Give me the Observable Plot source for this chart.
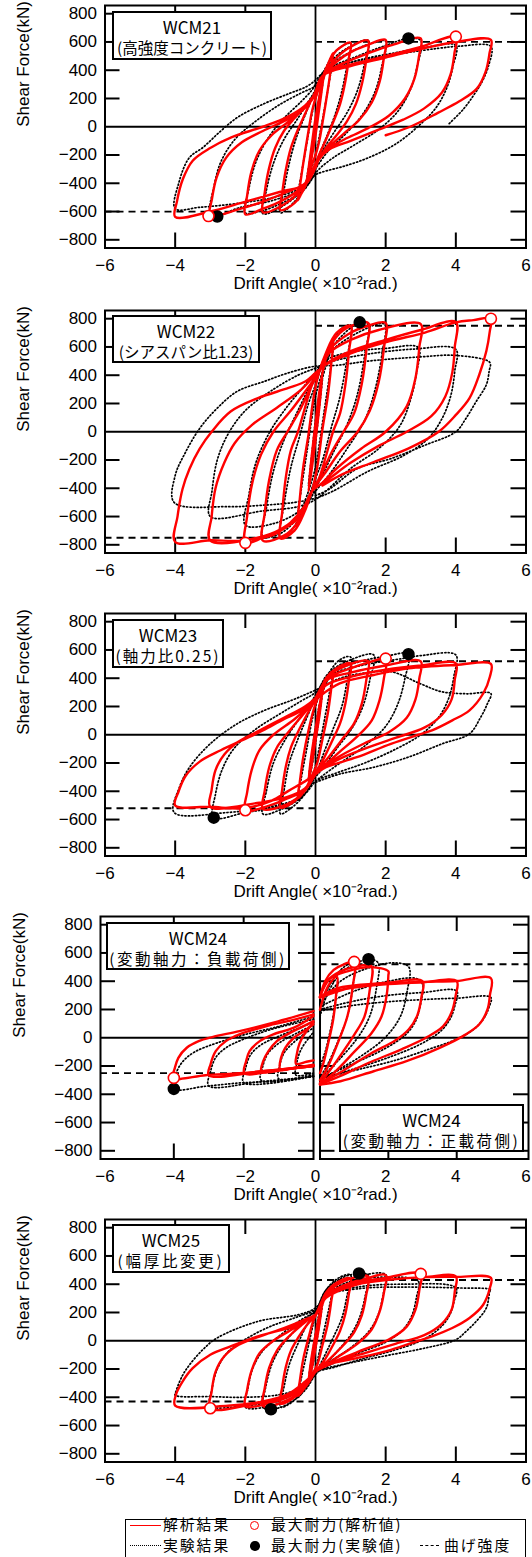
<!DOCTYPE html>
<html><head><meta charset="utf-8">
<script src="https://cdn.jsdelivr.net/npm/d3@7"></script>
<script src="https://cdn.jsdelivr.net/npm/@observablehq/plot@0.6"></script>
<style>
html,body{margin:0;padding:0;background:#fff;overflow:hidden}
#chart{position:relative;width:532px;height:1557px;overflow:hidden;background:#fff}
.box{position:absolute;box-sizing:border-box;border:2px solid #000;background:#fff;font-family:"Noto Sans CJK JP",sans-serif;font-size:15.5px;line-height:20px;text-align:center;color:#000;white-space:nowrap;padding-top:3.5px}
.box .l1{font-size:17px}
.legend{position:absolute;left:125px;top:1518.5px;width:401px;height:50px;box-sizing:border-box;border:1.5px solid #000;background:#fff;font-family:"Noto Sans CJK JP",sans-serif;font-size:14.8px;letter-spacing:2px;color:#000}
.legend .it{position:absolute;white-space:nowrap;line-height:14.8px;height:14.8px}
.sym{position:absolute}
</style></head><body><div id="chart"></div>
<script>
// ---------- axis values ----------
const driftTicks = [-6, -4, -2, 0, 2, 4, 6];
const shearTicks = [-800, -600, -400, -200, 0, 200, 400, 600, 800];
const boxLabels = [
  ["WCM21", "(高強度コンクリート)"],
  ["WCM22", "(シアスパン比1.23)"],
  ["WCM23", "(軸力比0.25)"],
  ["WCM24", "(変動軸力：負載荷側)"],
  ["WCM24", "(変動軸力：正載荷側)"],
  ["WCM25", "(幅厚比変更)"]
];
const legendLabels = ["解析結果", "最大耐力(解析値)", "実験結果", "最大耐力(実験値)", "曲げ強度"];
const flexuralStrength = {wcm21: 600, wcm22: 750, wcm23: 520, wcm24neg: -251, wcm24pos: 520, wcm25: 430};

// ---------- WCM21 ----------
const wcm21Analysis = [[0,0],[0.12,220],[0.25,390],[0.2,300],[0.08,80],[0,-60],[-0.12,-230],[-0.25,-390],[-0.2,-300],[-0.08,-80],[0,60],
[0.15,260],[0.3,400],[0.5,520],[0.45,430],[0.35,260],[0.22,60],[0.1,-110],[0,-200],[-0.15,-300],[-0.3,-410],[-0.5,-520],[-0.45,-430],[-0.35,-260],[-0.22,-60],[-0.1,110],[0,200],
[0.15,310],[0.35,440],[0.6,540],[1.0,595],[0.95,480],[0.85,320],[0.7,160],[0.5,30],[0.3,-90],[0.1,-200],[0,-260],[-0.15,-340],[-0.35,-450],[-0.6,-540],[-1.0,-590],[-0.95,-470],[-0.85,-310],[-0.7,-150],[-0.5,-20],[-0.3,90],[-0.1,200],[0,250],
[0.2,350],[0.5,460],[0.9,550],[1.5,610],[1.45,480],[1.33,310],[1.15,160],[0.9,40],[0.6,-60],[0.3,-150],[0.1,-230],[0,-280],[-0.2,-370],[-0.5,-470],[-0.9,-550],[-1.5,-605],[-1.45,-470],[-1.33,-300],[-1.15,-150],[-0.9,-30],[-0.6,60],[-0.3,140],[-0.1,200],[0.05,260],
[0.25,370],[0.6,460],[1.1,540],[1.5,580],[2.0,615],[1.95,490],[1.83,320],[1.6,170],[1.25,50],[0.8,-50],[0.4,-140],[0.1,-230],[0,-280],[-0.25,-390],[-0.6,-470],[-1.1,-540],[-1.5,-580],[-2.0,-620],[-1.95,-490],[-1.83,-320],[-1.6,-170],[-1.25,-60],[-0.8,30],[-0.4,110],[-0.1,190],[0.05,260],
[0.3,380],[0.8,450],[1.5,520],[2.2,580],[3.0,625],[2.95,500],[2.82,340],[2.55,200],[2.1,80],[1.5,-10],[0.9,-80],[0.4,-150],[0.1,-220],[0,-280],[-0.3,-400],[-0.8,-460],[-1.5,-530],[-2.2,-585],[-3.0,-628],[-2.95,-510],[-2.82,-360],[-2.55,-220],[-2.1,-110],[-1.5,-30],[-0.9,40],[-0.4,110],[-0.1,190],[0.05,260],
[0.3,390],[1.0,440],[2.0,500],[3.0,565],[4.0,635],[3.96,520],[3.85,370],[3.6,240],[3.1,130],[2.5,50],[1.8,-20],[1.0,-100],[0.4,-160],[0.1,-230],[0,-290],[-0.3,-410],[-1.0,-460],[-2.0,-530],[-3.0,-600],[-4.0,-638],[-3.95,-530],[-3.78,-370],[-3.5,-240],[-3.0,-150],[-2.4,-75],[-1.5,0],[-0.8,70],[-0.3,150],[-0.05,220],
[0.2,360],[1.0,430],[2.0,490],[3.0,550],[4.0,600],[5.0,615],[4.96,520],[4.85,390],[4.6,270],[4.1,180],[3.5,100],[2.7,0],[2.0,-60]];
const wcm21Test = [[0,0],[0.1,200],[0.25,380],[0.15,220],[0,20],[-0.1,-200],[-0.25,-370],[-0.15,-220],[0,-20],
[0.2,330],[0.5,500],[0.4,330],[0.25,120],[0.1,-80],[0,-200],[-0.2,-350],[-0.5,-500],[-0.4,-330],[-0.25,-120],[-0.1,90],[0,200],
[0.3,420],[0.6,540],[1.0,590],[0.9,440],[0.75,250],[0.55,80],[0.3,-80],[0.1,-200],[0,-270],[-0.3,-420],[-0.6,-530],[-1.0,-610],[-0.9,-450],[-0.75,-260],[-0.55,-80],[-0.3,80],[-0.1,200],[0,260],
[0.3,420],[0.8,540],[1.5,610],[1.4,450],[1.2,260],[0.9,100],[0.5,-50],[0.2,-170],[0,-270],[-0.3,-420],[-0.8,-540],[-1.5,-615],[-1.4,-450],[-1.2,-260],[-0.9,-90],[-0.5,60],[-0.2,180],[0,260],
[0.3,410],[1.0,530],[1.6,590],[2.0,605],[1.9,440],[1.7,250],[1.35,90],[0.9,-40],[0.4,-160],[0.1,-260],[0,-300],[-0.3,-440],[-1.0,-545],[-1.6,-600],[-2.0,-610],[-1.9,-440],[-1.7,-250],[-1.35,-80],[-0.9,60],[-0.4,180],[-0.1,260],[0,300],
[0.3,400],[1.2,500],[2.0,575],[2.65,625],[3.0,610],[2.9,430],[2.7,260],[2.35,110],[1.8,-20],[1.1,-130],[0.5,-220],[0.1,-300],[0,-330],[-0.3,-430],[-1.2,-520],[-2.2,-575],[-2.8,-630],[-3.0,-610],[-2.9,-430],[-2.7,-250],[-2.3,-90],[-1.7,40],[-1.0,160],[-0.4,240],[0,290],
[0.3,390],[1.2,470],[2.2,520],[3.0,555],[4.0,575],[3.92,430],[3.75,280],[3.45,140],[3.0,20],[2.3,-120],[1.5,-220],[0.8,-280],[0.2,-320],[0,-340],[-0.3,-420],[-1.2,-500],[-2.3,-545],[-3.3,-570],[-4.0,-580],[-3.9,-400],[-3.6,-220],[-3.2,-145],[-2.7,-30],[-2.2,70],[-1.45,165],[-0.75,235],[-0.25,285],[0,330],
[0.3,400],[1.3,470],[2.5,520],[3.5,555],[4.1,570],[5.0,568],[4.93,430],[4.75,320],[4.5,220],[4.2,120],[3.8,20]];
const wcm21AnalysisMax = [[4.0,638],[-3.05,-632]];
const wcm21TestMax = [[2.65,625],[-2.8,-635]];

// ---------- WCM22 ----------
const wcm22Analysis = [[0,0],[0.1,250],[0.2,420],[0.12,200],[0,-60],[-0.1,-250],[-0.2,-420],[-0.12,-200],[0,60],
[0.15,350],[0.3,520],[0.5,640],[0.45,480],[0.35,250],[0.2,20],[0.05,-250],[-0.1,-420],[-0.3,-540],[-0.5,-640],[-0.45,-480],[-0.35,-250],[-0.2,-20],[-0.05,250],[0.1,420],
[0.3,560],[0.6,700],[1.0,750],[0.95,560],[0.85,330],[0.7,130],[0.5,0],[0.3,-170],[0.1,-330],[-0.1,-420],[-0.3,-560],[-0.6,-700],[-1.0,-755],[-0.95,-570],[-0.85,-330],[-0.7,-130],[-0.5,0],[-0.3,170],[-0.1,330],[0.1,420],
[0.35,580],[0.8,720],[1.5,770],[1.45,580],[1.32,340],[1.1,130],[0.8,0],[0.45,-150],[0.15,-310],[-0.1,-420],[-0.35,-580],[-0.8,-720],[-1.5,-770],[-1.45,-580],[-1.32,-340],[-1.1,-130],[-0.8,0],[-0.45,150],[-0.15,310],[0.1,420],
[0.4,580],[1.0,700],[1.5,750],[2.0,770],[1.95,590],[1.8,350],[1.55,150],[1.2,0],[0.7,-140],[0.25,-300],[-0.1,-420],[-0.4,-590],[-1.0,-700],[-1.5,-750],[-2.0,-786],[-1.95,-600],[-1.8,-360],[-1.55,-160],[-1.2,0],[-0.7,150],[-0.25,300],[0.1,420],
[0.4,560],[1.0,650],[1.8,720],[3.0,762],[2.96,600],[2.85,380],[2.6,180],[2.0,0],[1.3,-120],[0.6,-260],[0.2,-360],[-0.1,-420],[-0.3,-530],[-0.8,-660],[-1.5,-740],[-3.0,-770],[-2.96,-600],[-2.85,-400],[-2.6,-220],[-2.3,-80],[-1.8,50],[-1.1,170],[-0.4,300],[0.05,420],
[0.3,480],[1.0,570],[2.0,650],[3.0,720],[4.0,776],[3.97,600],[3.9,420],[3.7,250],[3.3,110],[2.6,0],[1.8,-100],[1.0,-220],[0.4,-330],[-0.1,-420],[-0.3,-520],[-0.7,-640],[-1.2,-730],[-2.2,-772],[-3.0,-768],[-4.0,-780],[-3.93,-595],[-3.79,-405],[-3.59,-262],[-3.3,-119],[-2.96,0],[-2.42,143],[-1.64,238],[-0.77,310],[-0.28,357],[0,417],
[0.3,476],[1.18,571],[2.15,643],[3.12,702],[4.0,774],[4.5,790],[5.0,800],[4.97,714],[4.87,571],[4.67,405],[4.39,238],[4.0,119],[3.51,0],[2.64,-119],[1.66,-214],[0.69,-310],[0.2,-381]];
const wcm22Test = [[0,0],[0.1,220],[0.2,380],[0.1,150],[0,-80],[-0.1,-230],[-0.2,-380],[-0.1,-150],[0,80],
[0.2,380],[0.5,600],[0.4,400],[0.25,150],[0.1,-100],[0,-250],[-0.2,-420],[-0.5,-600],[-0.4,-400],[-0.25,-150],[-0.1,100],[0,250],
[0.3,500],[0.7,720],[1.0,755],[0.9,520],[0.7,250],[0.45,30],[0.2,-200],[0,-330],[-0.3,-520],[-0.7,-700],[-1.0,-740],[-0.9,-520],[-0.7,-250],[-0.45,-30],[-0.2,200],[0,330],
[0.35,560],[1.26,774],[1.5,760],[1.4,540],[1.2,270],[0.9,50],[0.5,-150],[0.15,-330],[0,-400],[-0.35,-560],[-1.0,-720],[-1.5,-740],[-1.4,-540],[-1.2,-280],[-0.9,-60],[-0.5,150],[-0.15,330],[0,400],
[0.4,560],[1.2,700],[1.96,762],[1.9,560],[1.7,300],[1.4,80],[0.9,-120],[0.4,-300],[0,-420],[-0.4,-550],[-1.2,-650],[-2.0,-660],[-1.9,-450],[-1.7,-220],[-1.3,0],[-0.8,180],[-0.3,330],[0,420],
[0.4,520],[1.2,570],[2.0,590],[2.93,595],[2.88,420],[2.7,220],[2.4,40],[1.8,-120],[1.0,-260],[0.3,-420],[0,-480],[-0.5,-530],[-1.5,-560],[-3.0,-600],[-2.95,-420],[-2.8,-200],[-2.5,-20],[-2.0,150],[-1.2,300],[-0.5,400],[0,450],
[0.5,500],[1.5,550],[2.8,585],[4.0,583],[3.97,430],[3.85,250],[3.6,90],[3.2,-50],[2.5,-170],[1.5,-280],[0.5,-420],[0,-470],[-0.6,-500],[-1.5,-520],[-2.5,-530],[-4.03,-500],[-4.0,-310],[-3.7,-143],[-3.3,24],[-2.8,167],[-2.23,286],[-1.45,357],[-0.77,417],[0,464],
[0.6,470],[1.5,500],[3.0,530],[4.0,540],[4.97,490],[4.95,430],[4.87,333],[4.58,214],[4.29,95],[4.0,0],[3.12,-95],[2.15,-190],[1.18,-262],[0.4,-405],[0,-452]];
const wcm22AnalysisMax = [[5.0,800],[-2.0,-786]];
const wcm22TestMax = [[1.26,774]];

// ---------- WCM23 ----------
const wcm23Analysis = [[0,0],[0.1,180],[0.2,320],[0.12,150],[0,-40],[-0.1,-200],[-0.2,-330],[-0.12,-150],[0,40],
[0.15,250],[0.3,380],[0.5,440],[0.45,330],[0.35,150],[0.2,-30],[0.05,-200],[-0.1,-290],[-0.3,-390],[-0.5,-450],[-0.45,-340],[-0.35,-160],[-0.2,30],[-0.05,180],[0.05,250],
[0.3,400],[0.6,470],[1.0,505],[0.95,380],[0.85,220],[0.7,80],[0.5,-30],[0.25,-160],[0,-270],[-0.3,-390],[-0.6,-470],[-1.0,-515],[-0.95,-390],[-0.85,-230],[-0.7,-90],[-0.5,20],[-0.25,140],[0,250],
[0.35,410],[0.8,480],[1.5,520],[1.45,390],[1.32,220],[1.1,80],[0.8,-20],[0.4,-150],[0.1,-240],[0,-280],[-0.35,-410],[-0.8,-490],[-1.5,-525],[-1.45,-400],[-1.32,-230],[-1.1,-90],[-0.8,10],[-0.4,130],[-0.1,220],[0,260],
[0.35,400],[1.0,470],[1.5,510],[2.0,535],[1.95,400],[1.82,240],[1.6,100],[1.2,-10],[0.6,-140],[0.2,-230],[0,-280],[-0.3,-390],[-0.8,-450],[-1.3,-500],[-2.0,-534],[-1.95,-410],[-1.82,-250],[-1.6,-110],[-1.2,0],[-0.6,110],[-0.2,200],[0,255],
[0.35,390],[1.0,440],[2.0,490],[3.0,520],[2.96,400],[2.85,250],[2.6,120],[2.1,20],[1.4,-60],[0.7,-150],[0.2,-230],[0,-280],[-0.3,-380],[-0.8,-440],[-1.6,-480],[-3.0,-510],[-2.96,-390],[-2.85,-250],[-2.6,-140],[-2.2,-50],[-1.6,30],[-0.9,120],[-0.3,200],[0,260],
[0.3,350],[1.0,410],[2.0,460],[3.0,490],[4.0,505],[3.97,390],[3.88,250],[3.6,140],[3.1,50],[2.3,-20],[1.5,-90],[0.7,-170],[0.2,-240],[0,-280],[-0.3,-330],[-0.77,-397],[-1.26,-468],[-2.03,-520],[-3.0,-510],[-4.0,-500],[-3.9,-400],[-3.7,-290],[-3.3,-190],[-2.7,-110],[-2.1,-40],[-1.5,30],[-0.9,110],[-0.4,170],[0,250],
[0.69,363],[1.66,423],[2.64,470],[4.0,494],[5.0,501],[4.97,410],[4.78,292],[4.39,173],[3.9,102],[3.32,31],[2.93,0],[2.15,-64],[1.18,-159],[0.3,-230],[0,-278]];
const wcm23Test = [[0,0],[0.1,170],[0.2,300],[0.1,120],[0,-60],[-0.1,-220],[-0.2,-320],[-0.1,-130],[0,50],
[0.2,300],[0.5,450],[0.4,300],[0.25,100],[0.1,-100],[0,-220],[-0.2,-350],[-0.5,-460],[-0.4,-300],[-0.25,-100],[-0.1,100],[0,200],
[0.3,400],[0.69,530],[1.0,550],[0.9,380],[0.75,200],[0.5,40],[0.25,-120],[0,-280],[-0.3,-420],[-0.7,-520],[-1.0,-560],[-0.9,-400],[-0.75,-200],[-0.5,-30],[-0.25,120],[0,260],
[0.35,430],[1.0,530],[1.66,565],[1.55,390],[1.35,200],[1.05,50],[0.6,-100],[0.2,-240],[0,-300],[-0.35,-430],[-1.0,-530],[-1.5,-560],[-1.4,-400],[-1.2,-200],[-0.9,-50],[-0.5,100],[-0.15,220],[0,280],
[0.4,430],[1.3,520],[2.0,555],[2.64,570],[2.55,400],[2.35,220],[2.0,60],[1.4,-80],[0.7,-200],[0.2,-290],[0,-330],[-0.4,-440],[-1.3,-520],[-2.0,-550],[-2.91,-587],[-2.85,-420],[-2.65,-240],[-2.3,-90],[-1.7,40],[-1.0,150],[-0.4,240],[0,300],
[0.4,420],[1.5,500],[2.5,540],[3.0,560],[4.0,565],[3.95,420],[3.8,260],[3.5,120],[3.0,0],[2.3,-100],[1.4,-200],[0.6,-270],[0,-330],[-0.4,-440],[-1.3,-510],[-2.5,-550],[-4.03,-550],[-3.88,-373],[-3.59,-230],[-3.0,-64],[-2.23,78],[-1.45,173],[-0.67,245],[0,316],
[0.7,400],[1.5,440],[2.15,447],[3.0,360],[3.6,304],[4.3,290],[5.0,292],[4.9,220],[4.7,120],[4.39,7],[3.61,-64],[2.64,-159],[1.66,-230],[0.69,-278],[0,-337]];
const wcm23AnalysisMax = [[2.0,539],[-2.0,-534]];
const wcm23TestMax = [[2.65,570],[-2.9,-587]];

// ---------- WCM24 (negative side / positive side) ----------
const wcm24NegAnalysis = [
 [[0,-160],[-0.2,-170],[-0.5,-185],[-0.48,-120],[-0.4,-40],[-0.25,30],[0,110]],
 [[0,-190],[-0.5,-210],[-0.95,-225],[-0.93,-142],[-0.81,-71],[-0.56,0],[-0.25,50],[0,95]],
 [[0,-195],[-0.7,-220],[-1.49,-241],[-1.44,-166],[-1.29,-95],[-1.05,-24],[-0.66,36],[-0.3,80],[0,118]],
 [[0,-200],[-1.0,-228],[-1.98,-251],[-1.93,-166],[-1.83,-95],[-1.54,-24],[-1.15,24],[-0.56,71],[0,154]],
 [[0,-200],[-1.5,-238],[-3.0,-265],[-2.95,-189],[-2.8,-95],[-2.51,-24],[-2.12,24],[-1.34,83],[-0.6,125],[0,166]],
 [[0,-201],[-0.95,-225],[-2.02,-249],[-3.09,-265],[-4.02,-284],[-3.97,-213],[-3.87,-142],[-3.63,-71],[-3.29,-24],[-2.9,5],[-2.12,47],[-1.15,107],[0,189]]];
const wcm24NegTest = [
 [[0,-250],[-0.5,-265],[-0.48,-180],[-0.35,-80],[0,40]],
 [[0,-262],[-1.0,-290],[-0.97,-200],[-0.85,-110],[-0.6,-40],[-0.3,20],[0,70]],
 [[0,-270],[-1.5,-300],[-1.45,-200],[-1.3,-110],[-1.0,-40],[-0.5,30],[0,90]],
 [[0,-272],[-2.0,-318],[-1.95,-220],[-1.8,-120],[-1.5,-50],[-1.0,10],[-0.4,70],[0,110]],
 [[0,-275],[-1.5,-310],[-3.0,-340],[-2.95,-240],[-2.8,-140],[-2.5,-70],[-2.0,-10],[-1.2,60],[0,130]],
 [[0,-272],[-1.15,-308],[-2.12,-320],[-3.09,-343],[-4.02,-362],[-3.95,-260],[-3.75,-170],[-3.4,-100],[-2.8,-40],[-2.0,20],[-1.0,80],[0,150]]];
const wcm24PosAnalysis = [
 [[0,200],[0.15,320],[0.3,390],[0.5,430],[0.47,300],[0.38,120],[0.22,-60],[0.1,-180],[0,-250]],
 [[0,284],[0.15,400],[0.4,480],[0.7,520],[1.0,537],[0.95,350],[0.8,150],[0.5,-50],[0.2,-220],[0,-300]],
 [[0,288],[0.2,400],[0.6,470],[1.0,500],[1.5,508],[1.45,330],[1.3,150],[1.0,20],[0.5,-160],[0.2,-260],[0,-320]],
 [[0,292],[0.3,420],[0.8,470],[1.5,500],[2.0,470],[2.0,440],[1.95,300],[1.8,150],[1.5,30],[1.0,-100],[0.4,-250],[0,-325]],
 [[0,290],[0.5,350],[1.0,370],[2.0,390],[3.0,400],[2.97,290],[2.85,160],[2.6,60],[2.2,-20],[1.5,-110],[0.7,-230],[0,-328]],
 [[0,288],[0.5,335],[1.0,355],[2.0,380],[3.0,393],[4.0,400],[3.97,300],[3.85,180],[3.6,80],[3.1,0],[2.4,-80],[1.5,-170],[0.6,-270],[0,-331]],
 [[0,284],[1.0,360],[2.0,385],[3.0,395],[4.0,402],[5.0,421],[4.97,300],[4.9,200],[4.66,95],[4.27,24],[3.5,-71],[2.53,-166],[1.57,-237],[0.6,-308],[0,-331]]];
const wcm24PosTest = [
 [[0,150],[0.2,300],[0.5,420],[0.45,250],[0.3,50],[0.15,-100],[0,-200]],
 [[0,200],[0.3,380],[0.7,500],[1.0,530],[0.95,350],[0.8,150],[0.5,-40],[0.2,-200],[0,-280]],
 [[0,220],[0.4,420],[1.0,520],[1.42,556],[1.7,530],[1.65,350],[1.45,150],[1.1,0],[0.5,-170],[0,-290]],
 [[0,230],[0.6,400],[1.5,500],[2.2,530],[2.6,500],[2.55,330],[2.35,150],[1.9,0],[1.2,-130],[0.5,-230],[0,-300]],
 [[0,220],[1.0,330],[2.0,400],[2.8,420],[3.0,380],[2.95,250],[2.8,120],[2.5,20],[1.8,-90],[1.0,-180],[0,-290]],
 [[0,200],[1.0,260],[2.0,300],[3.0,320],[4.0,330],[3.95,230],[3.8,130],[3.5,40],[2.9,-50],[2.0,-140],[1.0,-220],[0,-290]],
 [[0,190],[1.0,230],[2.0,255],[3.0,270],[4.0,280],[5.0,285],[4.95,220],[4.8,140],[4.5,60],[4.0,-10],[3.2,-80],[2.2,-160],[1.2,-220],[0.5,-260],[0,-290]]];
const wcm24NegAnalysisMax = [[-4.0,-284]];
const wcm24NegTestMax = [[-4.0,-362]];
const wcm24PosAnalysisMax = [[1.0,537]];
const wcm24PosTestMax = [[1.42,556]];

// ---------- WCM25 ----------
const wcm25Analysis = [[0,0],[0.1,160],[0.2,280],[0.12,130],[0,-50],[-0.1,-190],[-0.2,-290],[-0.12,-130],[0,40],
[0.15,220],[0.3,320],[0.5,380],[0.45,280],[0.35,120],[0.2,-30],[0.05,-170],[-0.1,-240],[-0.3,-330],[-0.5,-390],[-0.45,-290],[-0.35,-130],[-0.2,20],[-0.05,150],[0.05,200],
[0.3,340],[0.6,410],[1.0,440],[0.95,330],[0.85,190],[0.7,70],[0.5,-30],[0.25,-140],[0,-220],[-0.3,-320],[-0.6,-400],[-1.0,-445],[-0.95,-330],[-0.85,-190],[-0.7,-70],[-0.5,20],[-0.25,110],[0,185],
[0.3,330],[0.8,420],[1.5,455],[1.45,330],[1.32,180],[1.1,60],[0.8,-30],[0.4,-130],[0.1,-200],[0,-220],[-0.3,-330],[-0.8,-420],[-1.5,-460],[-1.45,-340],[-1.32,-190],[-1.1,-70],[-0.8,20],[-0.4,110],[-0.1,170],[0,185],
[0.3,320],[1.0,410],[1.5,445],[2.0,465],[1.95,340],[1.82,200],[1.6,80],[1.2,-20],[0.6,-120],[0.2,-190],[0,-220],[-0.3,-320],[-0.8,-400],[-1.3,-440],[-2.0,-465],[-1.95,-350],[-1.82,-210],[-1.6,-90],[-1.2,0],[-0.6,90],[-0.2,150],[0,185],
[0.3,310],[1.0,400],[2.0,445],[3.0,473],[2.96,360],[2.85,220],[2.6,100],[2.1,10],[1.4,-60],[0.7,-130],[0.2,-190],[0,-220],[-0.3,-310],[-0.8,-390],[-1.6,-440],[-3.0,-478],[-2.96,-360],[-2.85,-220],[-2.6,-110],[-2.2,-30],[-1.6,30],[-0.9,90],[-0.3,150],[0,185],
[0.3,303],[1.18,398],[2.15,433],[3.12,450],[4.0,455],[3.97,350],[3.88,220],[3.6,120],[3.1,40],[2.3,-20],[1.5,-80],[0.7,-140],[0.2,-190],[0,-218],[-0.3,-290],[-0.8,-380],[-1.5,-430],[-2.5,-460],[-4.0,-459],[-3.98,-383],[-3.79,-289],[-3.5,-194],[-3.0,-99],[-2.42,-40],[-1.64,31],[-0.48,114],[0,185],
[0.3,303],[1.18,398],[2.15,433],[3.12,450],[4.0,452],[5.0,445],[4.97,373],[4.78,255],[4.39,161],[3.9,90],[3.32,31],[2.93,0],[2.15,-64],[1.18,-123],[0.3,-170],[0,-218]];
const wcm25Test = [[0,0],[0.1,150],[0.2,260],[0.1,100],[0,-60],[-0.1,-200],[-0.2,-280],[-0.1,-110],[0,50],
[0.2,280],[0.5,390],[0.4,250],[0.25,80],[0.1,-90],[0,-200],[-0.2,-300],[-0.5,-400],[-0.4,-260],[-0.25,-90],[-0.1,80],[0,180],
[0.3,360],[0.7,450],[1.0,465],[0.9,320],[0.75,160],[0.5,20],[0.25,-110],[0,-230],[-0.3,-340],[-0.7,-440],[-1.0,-470],[-0.9,-330],[-0.75,-170],[-0.5,-20],[-0.25,110],[0,200],
[0.3,360],[0.8,450],[1.24,476],[1.5,465],[1.42,320],[1.25,160],[1.0,40],[0.6,-80],[0.2,-190],[0,-240],[-0.3,-350],[-0.8,-450],[-1.27,-485],[-1.5,-470],[-1.42,-330],[-1.25,-170],[-1.0,-50],[-0.6,70],[-0.2,170],[0,210],
[0.3,350],[1.0,440],[2.0,468],[1.93,330],[1.78,180],[1.5,60],[1.0,-50],[0.4,-150],[0,-230],[-0.3,-340],[-1.0,-440],[-2.0,-470],[-1.93,-340],[-1.78,-190],[-1.5,-70],[-1.0,40],[-0.4,150],[0,210],
[0.3,330],[1.0,420],[2.0,450],[2.93,421],[2.88,310],[2.75,180],[2.5,80],[2.0,-10],[1.3,-80],[0.6,-150],[0,-230],[-0.3,-330],[-1.0,-420],[-2.0,-460],[-3.0,-460],[-2.95,-340],[-2.8,-200],[-2.5,-80],[-2.0,10],[-1.3,100],[-0.5,170],[0,220],
[0.3,320],[1.2,380],[2.5,400],[4.0,374],[3.95,280],[3.8,170],[3.5,80],[3.0,0],[2.2,-70],[1.3,-130],[0.5,-190],[0,-225],[-0.3,-320],[-1.0,-380],[-2.0,-400],[-3.0,-395],[-4.0,-385],[-3.98,-360],[-3.8,-250],[-3.59,-170],[-3.2,-60],[-2.81,19],[-1.64,137],[-0.48,185],[0,232],
[0.3,320],[1.3,370],[2.5,380],[4.0,374],[5.0,362],[4.97,350],[4.87,232],[4.58,137],[4.29,66],[4.0,7],[3.12,-52],[2.15,-99],[1.18,-147],[0.3,-194],[0,-218]];
const wcm25AnalysisMax = [[3.0,473],[-3.0,-478]];
const wcm25TestMax = [[1.24,476],[-1.27,-485]];

// ---------- drawing ----------
const FONT = "'Liberation Sans', Arial, sans-serif";
const W = 532, FH = 242.5, MT = 5, MB = 60, YDOM = [-858, 858];
const chart = document.getElementById("chart");
const RED = "#ff0000";

function place(el, top) {
  el.style.position = "absolute"; el.style.top = top + "px"; el.style.left = "0px";
  chart.appendChild(el);
}
const flatten = segs => segs.flatMap((s, i) => s.map(p => [p[0], p[1], i]));

function frameMarks(xt, yt, fw) {
  return [
    Plot.tickX(xt, {x: d => d, insetTop: FH - 15, strokeWidth: 2}),
    Plot.tickX(xt, {x: d => d, insetBottom: FH - 15, strokeWidth: 2}),
    Plot.tickY(yt, {y: d => d, insetLeft: fw - 15, strokeWidth: 2}),
    Plot.tickY(yt, {y: d => d, insetRight: fw - 15, strokeWidth: 2}),
    Plot.frame({stroke: "black", strokeWidth: 2})
  ];
}
function dataMarks(analysis, test, aMax, tMax, segmented) {
  const z = segmented ? (d => d[2]) : undefined;
  return [
    Plot.line(test, {x: d => d[0], y: d => d[1], z, curve: "catmull-rom", stroke: "black", strokeWidth: 1.7, strokeDasharray: "1.2,2.3"}),
    Plot.line(analysis, {x: d => d[0], y: d => d[1], z, curve: "catmull-rom", stroke: RED, strokeWidth: 2.4}),
    Plot.dot(tMax, {x: d => d[0], y: d => d[1], r: 5.5, fill: "black", stroke: "black"}),
    Plot.dot(aMax, {x: d => d[0], y: d => d[1], r: 5.5, fill: "white", stroke: RED, strokeWidth: 1.6})
  ];
}
const innerX = driftTicks.filter(d => d !== 0 && Math.abs(d) !== 6);
const innerY = shearTicks.filter(d => d !== 0);
const styleObj = {fontFamily: FONT, fontSize: "17px", background: "transparent", color: "black", overflow: "visible"};

function yTitle() {
  return Plot.text(["Shear Force(kN)"], {frameAnchor: "left", dx: -81, rotate: -90, fontSize: 17});
}
function xTitle() {
  return Plot.text(["Drift Angle( ×10⁻²rad.)"], {frameAnchor: "bottom", dy: 41, fontSize: 17});
}
function xLabels() {
  return Plot.axisX({ticks: driftTicks, tickSize: 0, tickPadding: 11, label: null});
}

function normalPanel(top, analysis, test, aMax, tMax, strength) {
  const ml = 104.5, mr = W - 525.5;
  const fw = W - ml - mr;
  const svg = Plot.plot({
    width: W, height: FH + MT + MB, marginTop: MT, marginBottom: MB, marginLeft: ml, marginRight: mr,
    style: styleObj,
    x: {domain: [-6, 6], axis: null}, y: {domain: YDOM, axis: null},
    marks: [
      Plot.ruleY([0], {strokeWidth: 1.8}),
      Plot.ruleX([0], {strokeWidth: 1.8}),
      ...frameMarks(innerX, innerY, fw),
      Plot.ruleY([strength], {x1: 0, x2: 6, strokeWidth: 1.8, strokeDasharray: "7,5"}),
      Plot.ruleY([-strength], {x1: -6, x2: 0, strokeWidth: 1.8, strokeDasharray: "7,5"}),
      ...dataMarks(analysis, test, aMax, tMax, false),
      xLabels(),
      Plot.axisY({ticks: shearTicks, tickSize: 0, tickPadding: 8, label: null}),
      yTitle(), xTitle()
    ]
  });
  place(svg, top - MT);
}

normalPanel(4.5, wcm21Analysis, wcm21Test, wcm21AnalysisMax, wcm21TestMax, flexuralStrength.wcm21);
normalPanel(310, wcm22Analysis, wcm22Test, wcm22AnalysisMax, wcm22TestMax, flexuralStrength.wcm22);
normalPanel(613, wcm23Analysis, wcm23Test, wcm23AnalysisMax, wcm23TestMax, flexuralStrength.wcm23);
normalPanel(1218.5, wcm25Analysis, wcm25Test, wcm25AnalysisMax, wcm25TestMax, flexuralStrength.wcm25);

// WCM24: two sub-frames sharing one drift axis
(function () {
  const top = 916;
  const axes = Plot.plot({
    width: W, height: FH + MT + MB, marginTop: MT, marginBottom: MB, marginLeft: 104.5, marginRight: W - 525.5,
    style: styleObj, x: {domain: [-6, 6], axis: null},
    marks: [xLabels(), xTitle()]
  });
  place(axes, top - MT);
  const lL = 100, lR = 313;
  const left = Plot.plot({
    width: W, height: FH + MT + MB, marginTop: MT, marginBottom: MB, marginLeft: lL, marginRight: W - lR,
    style: styleObj, x: {domain: [-6.1, 0], axis: null}, y: {domain: YDOM, axis: null},
    marks: [
      Plot.ruleY([0], {strokeWidth: 1.8}),
      ...frameMarks(innerX.filter(d => d < 0), innerY, lR - lL),
      Plot.ruleY([flexuralStrength.wcm24neg], {x1: -6.1, x2: 0, strokeWidth: 1.8, strokeDasharray: "7,5"}),
      ...dataMarks(flatten(wcm24NegAnalysis), flatten(wcm24NegTest), wcm24NegAnalysisMax, wcm24NegTestMax, true),
      Plot.axisY({ticks: shearTicks, tickSize: 0, tickPadding: 8, label: null}),
      yTitle()
    ]
  });
  place(left, top - MT);
  const rL = 319.5, rR = 528;
  const right = Plot.plot({
    width: W, height: FH + MT + MB, marginTop: MT, marginBottom: MB, marginLeft: rL, marginRight: W - rR,
    style: styleObj, x: {domain: [0, 6.1], axis: null}, y: {domain: YDOM, axis: null},
    marks: [
      Plot.ruleY([0], {strokeWidth: 1.8}),
      ...frameMarks(innerX.filter(d => d > 0), innerY, rR - rL),
      Plot.ruleY([flexuralStrength.wcm24pos], {x1: 0, x2: 6.1, strokeWidth: 1.8, strokeDasharray: "7,5"}),
      ...dataMarks(flatten(wcm24PosAnalysis), flatten(wcm24PosTest), wcm24PosAnalysisMax, wcm24PosTestMax, true)
    ]
  });
  place(right, top - MT);
})();

// specimen boxes
const boxPos = [
  {l: 112, t: 11, w: 160, h: 49, ls: 0},
  {l: 112, t: 315, w: 148, h: 48, ls: 0},
  {l: 112, t: 619, w: 112, h: 49, ls: 2},
  {l: 106, t: 922, w: 184, h: 48, ls: 2.5},
  {l: 339, t: 1104, w: 185, h: 48, ls: 2.5},
  {l: 112, t: 1224, w: 118, h: 49, ls: 2.7}
];
boxLabels.forEach((lab, i) => {
  const p = boxPos[i];
  const d = document.createElement("div");
  d.className = "box";
  Object.assign(d.style, {left: p.l + "px", top: p.t + "px", width: p.w + "px", height: p.h + "px"});
  const a = document.createElement("div"); a.className = "l1"; a.textContent = lab[0];
  const b = document.createElement("div"); b.textContent = lab[1]; b.style.letterSpacing = p.ls + "px";
  d.appendChild(a); d.appendChild(b);
  chart.appendChild(d);
});

// legend
(function () {
  const lg = document.createElement("div");
  lg.className = "legend";
  chart.appendChild(lg);
  const r1 = 5, r2 = 26.2;
  function sym(css) { const s = document.createElement("div"); s.className = "sym"; Object.assign(s.style, css); lg.appendChild(s); }
  function txt(t, x, yc) { const s = document.createElement("div"); s.className = "it"; s.textContent = t; s.style.left = x + "px"; s.style.top = (yc - 7.4) + "px"; lg.appendChild(s); }
  sym({left: "4px", top: (r1 + 1 - 0.75) + "px", width: "31px", borderTop: "1.5px solid " + RED});
  txt(legendLabels[0], 37, r1);
  sym({left: "124px", top: (r1 + 1 - 4.5) + "px", width: "7px", height: "7px", border: "1.3px solid " + RED, borderRadius: "50%"});
  txt(legendLabels[1], 145, r1);
  sym({left: "4px", top: (r2 - 0.5) + "px", width: "31px", borderTop: "1px dotted #000"});
  txt(legendLabels[2], 37, r2);
  sym({left: "124px", top: (r2 - 4.5) + "px", width: "9.5px", height: "9.5px", background: "#000", borderRadius: "50%"});
  txt(legendLabels[3], 145, r2);
  sym({left: "294px", top: (r2 - 0.75) + "px", width: "19px", borderTop: "1.5px dashed #000"});
  txt(legendLabels[4], 318, r2);
})();
</script></body></html>
